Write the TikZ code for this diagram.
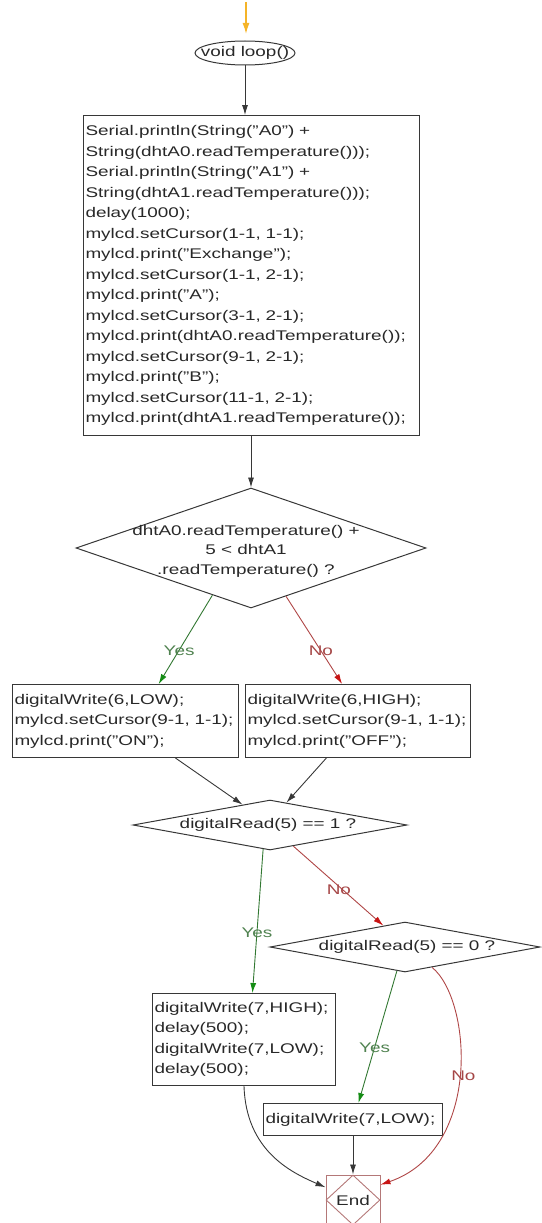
\documentclass[tikz,border=0pt]{standalone}
\usepackage{fontspec}
\setmainfont{Liberation Sans}[FakeStretch=1.35]
\usetikzlibrary{arrows.meta,shapes.geometric,calc}
\definecolor{txt}{RGB}{40,40,40}
\definecolor{edge}{RGB}{55,55,55}
\definecolor{yesline}{RGB}{50,120,50}
\definecolor{yeshead}{RGB}{20,140,20}
\definecolor{yeslab}{RGB}{80,130,80}
\definecolor{noline}{RGB}{175,70,70}
\definecolor{nohead}{RGB}{200,20,20}
\definecolor{nolab}{RGB}{165,70,70}
\definecolor{endcol}{RGB}{180,120,120}
\definecolor{startcol}{RGB}{245,180,40}
\tikzset{
  codebox/.style={draw=edge, line width=1pt, anchor=north west, align=left,
    inner xsep=2pt, inner ysep=0pt, text=txt,
    font=\fontsize{14}{20.5}\selectfont},
  lbl/.style={text=txt, font=\fontsize{14}{19.5}\selectfont, align=center, inner sep=0pt},
  decis/.style={diamond, draw=edge, line width=1pt, inner sep=0pt},
  conn/.style={draw=edge, line width=0.9pt, -{Latex[length=10pt,width=6pt]}},
  yesconn/.style={draw=yesline, line width=0.9pt, -{Latex[length=10pt,width=6pt,fill=yeshead,color=yeshead]}},
  noconn/.style={draw=noline, line width=0.9pt, -{Latex[length=10pt,width=6pt,fill=nohead,color=nohead]}},
  yeslbl/.style={text=yeslab, font=\fontsize{14}{16}\selectfont, inner sep=0pt},
  nolbl/.style={text=nolab, font=\fontsize{14}{16}\selectfont, inner sep=0pt},
}
\begin{document}
\begin{tikzpicture}[x=1pt,y=-1pt]
\useasboundingbox (0,0) rectangle (541,1223);
% start
\coordinate (s0) at (246,2);
\coordinate (s1) at (246,34);
\draw[draw=startcol, line width=1.4pt, -{Latex[length=11pt,width=7pt]}] (s0) -- (s1);
% void loop
\node[lbl, minimum width=100pt, minimum height=24pt] (loop) at (245,53) {void loop()};
\draw[edge, line width=1pt] (loop.center) ellipse [x radius=50pt, y radius=12pt];
% big box
\node[codebox, text width=332pt, minimum height=320pt] (b1) at (83,115) {Serial.println(String("A0") +\\
String(dhtA0.readTemperature()));\\
Serial.println(String("A1") +\\
String(dhtA1.readTemperature()));\\
delay(1000);\\
mylcd.setCursor(1-1, 1-1);\\
mylcd.print("Exchange");\\
mylcd.setCursor(1-1, 2-1);\\
mylcd.print("A");\\
mylcd.setCursor(3-1, 2-1);\\
mylcd.print(dhtA0.readTemperature());\\
mylcd.setCursor(9-1, 2-1);\\
mylcd.print("B");\\
mylcd.setCursor(11-1, 2-1);\\
mylcd.print(dhtA1.readTemperature());};
% decision 1
\node[decis, minimum width=350pt, minimum height=120pt] (d1) at (251,548) {};
\node[lbl] (d1t) at (246,551) {dhtA0.readTemperature() +\\5 < dhtA1\\.readTemperature() ?};
% boxes row
\node[codebox, text width=222pt, minimum height=73pt] (bL) at (12,684) {digitalWrite(6,LOW);\\
mylcd.setCursor(9-1, 1-1);\\
mylcd.print("ON");};
\node[codebox, text width=221pt, minimum height=73pt] (bR) at (245,684) {digitalWrite(6,HIGH);\\
mylcd.setCursor(9-1, 1-1);\\
mylcd.print("OFF");};
% decision 2
\node[decis, minimum width=274pt, minimum height=50pt] (d2) at (270,825) {};
\node[lbl] (d2t) at (268,825) {digitalRead(5) == 1 ?};
% decision 3
\node[decis, minimum width=270pt, minimum height=50pt] (d3) at (405,947) {};
\node[lbl] (d3t) at (407,947) {digitalRead(5) == 0 ?};
% lower boxes
\node[codebox, text width=179pt, minimum height=92pt] (bH) at (152,993) {digitalWrite(7,HIGH);\\
delay(500);\\
digitalWrite(7,LOW);\\
delay(500);};
\node[codebox, text width=175pt, minimum height=32pt] (bLow) at (263,1103) {digitalWrite(7,LOW);};
% end
\node[draw=endcol, line width=1pt, minimum width=54pt, minimum height=50pt, inner sep=0pt] (End) at (353,1200) {};
\node[diamond, draw=endcol, line width=0.9pt, minimum width=54pt, minimum height=50pt, inner sep=0pt] (Endd) at (End.center) {};
\node[lbl] (Endt) at (End.center) {End};
% connectors
\draw[conn] (loop.south) -- (loop.south |- b1.north);
\draw[conn] (d1.north |- b1.south) -- (d1.north);
\draw[yesconn] ($(d1.south)!0.22!(d1.west)$) -- node[yeslbl, pos=0.62] {Yes} ($(bL.north west)!0.646!(bL.north east)$);
\draw[noconn] ($(d1.south)!0.2!(d1.east)$) -- node[nolbl, pos=0.62] {No} ($(bR.north west)!0.43!(bR.north east)$);
\draw[conn] ($(bL.south west)!0.72!(bL.south east)$) -- ($(d2.north)!0.2!(d2.west)$);
\draw[conn] ($(bR.south west)!0.36!(bR.south east)$) -- ($(d2.north)!0.12!(d2.east)$);
\draw[yesconn] ($(d2.south)!0.05!(d2.west)$) -- node[yeslbl, pos=0.58] {Yes} ($(bH.north west)!0.546!(bH.north east)$);
\draw[noconn] ($(d2.south)!0.17!(d2.east)$) -- node[nolbl, pos=0.55, xshift=-4pt] {No} ($(d3.north)!0.16!(d3.west)$);
\draw[yesconn] ($(d3.south)!0.06!(d3.west)$) -- node[yeslbl, pos=0.58] {Yes} ($(bLow.north west)!0.53!(bLow.north east)$);
\draw[noconn] ($(d3.south)!0.2!(d3.east)$) .. controls (472,1000) and (482,1150) .. node[nolbl, pos=0.5, xshift=4pt] {No} ($(End.north east)!0.2!(End.south east)$);
\draw[conn] (bLow.south) -- (End.north);
\draw[conn] (bH.south) .. controls (246,1150) and (290,1172) .. ($(End.north west)!0.25!(End.south west)$);
\end{tikzpicture}
\end{document}
